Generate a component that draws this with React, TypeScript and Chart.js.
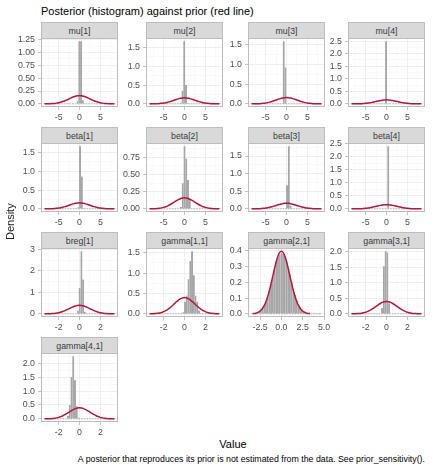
import React, { useEffect, useRef } from 'react';
import { Chart, registerables } from 'chart.js';

Chart.register(...registerables);

// ---- data -------------------------------------------------------------

const panelNames = [
  'mu[1]', 'mu[2]', 'mu[3]', 'mu[4]',
  'beta[1]', 'beta[2]', 'beta[3]', 'beta[4]',
  'breg[1]', 'gamma[1,1]', 'gamma[2,1]', 'gamma[3,1]', 'gamma[4,1]',
];

// prior: normal(0, sd)
const priorSd = [2.5, 2.5, 2.5, 2.5, 2.5, 2.5, 2.5, 2.5, 1, 1, 1, 1, 1];

// standard normal density at z (prior curve, scaled by each panel's sd)
const priorZ = [
  -3.36, -3.2, -3.0, -2.8, -2.6, -2.4, -2.2, -2.0, -1.8, -1.6, -1.4, -1.2, -1.0, -0.8, -0.6, -0.4, -0.2,
  0,
  0.2, 0.4, 0.6, 0.8, 1.0, 1.2, 1.4, 1.6, 1.8, 2.0, 2.2, 2.4, 2.6, 2.8, 3.0, 3.2, 3.36,
];
const priorPhi = [
  0.0014, 0.0024, 0.0044, 0.0079, 0.0136, 0.0224, 0.0355, 0.054, 0.079, 0.1109, 0.1497, 0.1942, 0.242, 0.2897, 0.3332, 0.3683, 0.391,
  0.3989,
  0.391, 0.3683, 0.3332, 0.2897, 0.242, 0.1942, 0.1497, 0.1109, 0.079, 0.054, 0.0355, 0.0224, 0.0136, 0.0079, 0.0044, 0.0024, 0.0014,
];

// posterior histograms: bin width, left edge of the first listed bin, densities
const binWidth = [0.42, 0.42, 0.42, 0.42, 0.42, 0.42, 0.42, 0.42, 0.168, 0.168, 0.2, 0.168, 0.168];
const firstBinEdge = [-0.67, -1.11, -0.88, -0.31, -0.5, -1.05, -0.08, 0.21, -0.236, -0.2, -3.5, -0.504, -1.188];

const mu1Density = [0.05, 1.22, 1.22, 0.07];
const mu2Density = [0.03, 0.35, 1.67, 0.5, 0.02];
const mu3Density = [1.59, 0.92];
const mu4Density = [2.5];
const beta1Density = [0.04, 1.67, 0.86, 0.03];
const beta2Density = [0.03, 0.37, 0.91, 0.73, 0.42, 0.15];
const beta3Density = [0.67, 1.78, 0.08];
const beta4Density = [2.4];
const breg1Density = [0.15, 1.2, 2.92, 1.6, 0.1];
const gamma11Density = [0.04, 0.3, 0.45, 0.85, 1.3, 1.54, 0.95, 0.45, 0.3, 0.08];
const gamma21Density = [
  0.003, 0.004, 0.006, 0.008, 0.013, 0.021, 0.034, 0.052, 0.075, 0.108,
  0.146, 0.19, 0.236, 0.283, 0.33, 0.36, 0.378, 0.385, 0.381, 0.366,
  0.335, 0.296, 0.25, 0.205, 0.16, 0.12, 0.085, 0.06, 0.04, 0.026,
  0.016, 0.01, 0.006, 0.004, 0.003, 0.002, 0.001, 0.001, 0.0005, 0.0005,
  0.0005,
];
const gamma31Density = [0.19, 1.53, 2.02, 1.98, 0.34];
const gamma41Density = [0.1, 0.5, 1.51, 2.26, 1.39, 0.45, 0.05];

const posteriorDensity = [
  mu1Density, mu2Density, mu3Density, mu4Density,
  beta1Density, beta2Density, beta3Density, beta4Density,
  breg1Density, gamma11Density, gamma21Density, gamma31Density, gamma41Density,
];

// major tick spacing of each panel's axes
const xTickStep = [5, 5, 5, 5, 5, 5, 5, 5, 2, 2, 2.5, 2, 2];
const yTickStep = [0.25, 0.5, 0.5, 0.5, 0.5, 0.25, 0.5, 0.5, 1, 0.5, 0.1, 0.5, 0.5];

const titleText = 'Posterior (histogram) against prior (red line)';
const xAxisTitle = 'Value';
const yAxisTitle = 'Density';
const captionText = 'A posterior that reproduces its prior is not estimated from the data. See prior_sensitivity().';

// ---- layout & style ---------------------------------------------------

const FONT = '"Liberation Sans", Arial, Helvetica, sans-serif';
const COL_LEFT = [41, 146, 248, 348];
const PANEL_W = 77;
const ROW_TOP = [22, 127, 232, 337];
const STRIP_H = 16;
const PLOT_H = 69;
const AXIS_W = 30;
const PAD_T = 12;
const PAD_R = 12;
const X_AXIS_H = 18;

const RED = '#B5163B';
const BAR = '#A6A6A6';
const BORDER = '#BDBDBD';
const GRID_MAJOR = '#EBEBEB';
const GRID_MINOR = '#F5F5F5';
const TICK = '#B3B3B3';
const TICK_TEXT = '#4D4D4D';

const decimalsOf = (step: number) => {
  const s = String(step);
  return s.includes('.') ? s.split('.')[1].length : 0;
};
const isMajor = (v: number, step: number) => Math.abs(v / step - Math.round(v / step)) < 1e-6;

function halfStepTicks(min: number, max: number, step: number) {
  const half = step / 2;
  const out: { value: number }[] = [];
  for (let k = Math.ceil(min / half - 1e-9); k <= Math.floor(max / half + 1e-9); k++) {
    out.push({ value: +(k * half).toFixed(6) });
  }
  return out;
}

function histogramBins(i: number) {
  const w = binWidth[i];
  const sd = priorSd[i];
  const lo = priorZ[0] * sd;
  const hi = priorZ[priorZ.length - 1] * sd;
  const dens = posteriorDensity[i];
  const start = firstBinEdge[i];
  const before = Math.max(0, Math.floor((start - lo) / w + 1e-9));
  const firstEdge = start - before * w;
  const listedEnd = start + dens.length * w;
  const after = Math.max(0, Math.floor((hi - listedEnd) / w + 1e-9));
  const bins: { x: number; y: number }[] = [];
  for (let k = 0; k < before; k++) bins.push({ x: firstEdge + (k + 0.5) * w, y: 0 });
  dens.forEach((d, k) => bins.push({ x: start + (k + 0.5) * w, y: d }));
  for (let k = 0; k < after; k++) bins.push({ x: listedEnd + (k + 0.5) * w, y: 0 });
  return { bins, lo: firstEdge, hi: listedEnd + after * w };
}

const panelBorder = {
  id: 'panelBorder',
  afterDraw(chart: any) {
    const { ctx, chartArea: a } = chart;
    ctx.save();
    ctx.strokeStyle = BORDER;
    ctx.lineWidth = 1;
    ctx.strokeRect(a.left + 0.5, a.top + 0.5, a.right - a.left - 1, a.bottom - a.top - 1);
    ctx.restore();
  },
};

function buildConfig(i: number): any {
  const sd = priorSd[i];
  const prior = priorZ.map((z, k) => ({ x: z * sd, y: priorPhi[k] / sd }));
  const hist = histogramBins(i);
  const dataLo = Math.min(prior[0].x, hist.lo);
  const dataHi = Math.max(prior[prior.length - 1].x, hist.hi);
  const xPad = 0.05 * (dataHi - dataLo);
  const xMin = dataLo - xPad;
  const xMax = dataHi + xPad;
  const top = Math.max(...posteriorDensity[i], ...prior.map((p) => p.y));
  const yMin = -0.05 * top;
  const yMax = 1.05 * top;
  const xs = xTickStep[i];
  const ys = yTickStep[i];
  const tickFont = { family: FONT, size: 8.8 };

  const axis = (step: number, min: number, max: number, isX: boolean) => ({
    type: 'linear',
    min,
    max,
    bounds: 'data',
    offset: false,
    border: { display: false },
    grid: {
      offset: false,
      drawTicks: true,
      tickLength: 3,
      color: (c: any) => (c.tick && isMajor(c.tick.value, step) ? GRID_MAJOR : GRID_MINOR),
      tickColor: (c: any) => (c.tick && isMajor(c.tick.value, step) ? TICK : 'rgba(0,0,0,0)'),
      lineWidth: (c: any) => (c.tick && isMajor(c.tick.value, step) ? 0.8 : 0.6),
    },
    ticks: {
      autoSkip: false,
      maxRotation: 0,
      minRotation: 0,
      padding: isX ? 2 : 3,
      color: TICK_TEXT,
      font: tickFont,
      callback: (v: number) => (isMajor(v, step) ? Number(v).toFixed(decimalsOf(step)) : ''),
    },
    afterBuildTicks: (scale: any) => {
      scale.ticks = halfStepTicks(min, max, step);
    },
    afterFit: (scale: any) => {
      if (isX) scale.height = X_AXIS_H;
      else scale.width = AXIS_W;
    },
  });

  return {
    type: 'bar',
    data: {
      datasets: [
        {
          type: 'line',
          data: prior,
          borderColor: RED,
          borderWidth: 1.5,
          pointRadius: 0,
          fill: false,
          cubicInterpolationMode: 'monotone',
          order: 0,
        },
        {
          type: 'line',
          data: [{ x: hist.lo, y: 0 }, { x: hist.hi, y: 0 }],
          borderColor: 'rgba(110,110,110,0.85)',
          borderWidth: 0.6,
          borderDash: [1.5, 1.2],
          pointRadius: 0,
          fill: false,
          order: 1,
        },
        {
          type: 'bar',
          data: hist.bins,
          backgroundColor: BAR,
          borderColor: 'rgba(255,255,255,0.25)',
          borderWidth: { left: 0.25, right: 0.25, top: 0, bottom: 0 },
          borderSkipped: false,
          barPercentage: 1,
          categoryPercentage: 1,
          order: 2,
        },
      ],
    },
    options: {
      animation: false,
      responsive: false,
      events: [],
      layout: { padding: { top: PAD_T, right: PAD_R, left: 0, bottom: 0 } },
      plugins: {
        legend: { display: false },
        tooltip: { enabled: false },
        title: { display: false },
      },
      scales: {
        x: axis(xs, xMin, xMax, true),
        y: axis(ys, yMin, yMax, false),
      },
    },
    plugins: [panelBorder],
  };
}

function Panel({ index }: { index: number }) {
  const ref = useRef<HTMLCanvasElement>(null);
  const col = index % 4;
  const row = Math.floor(index / 4);
  const left = COL_LEFT[col];
  const stripTop = ROW_TOP[row];
  const plotTop = stripTop + STRIP_H;
  const cw = AXIS_W + PANEL_W + PAD_R;
  const ch = PAD_T + PLOT_H + X_AXIS_H;

  useEffect(() => {
    if (!ref.current) return;
    const chart = new Chart(ref.current, buildConfig(index));
    return () => chart.destroy();
  }, [index]);

  return (
    <>
      <div
        style={{
          position: 'absolute',
          left,
          top: stripTop,
          width: PANEL_W,
          height: STRIP_H + 1,
          boxSizing: 'border-box',
          background: '#D9D9D9',
          border: `1px solid ${BORDER}`,
          display: 'flex',
          alignItems: 'center',
          justifyContent: 'center',
          fontSize: 8.8,
          fontWeight: 400,
          color: '#3A3A3A',
          whiteSpace: 'nowrap',
        }}
      >
        {panelNames[index]}
      </div>
      <canvas
        ref={ref}
        width={cw}
        height={ch}
        style={{ position: 'absolute', left: left - AXIS_W, top: plotTop - PAD_T, width: cw, height: ch }}
      />
    </>
  );
}

export default function App() {
  return (
    <div
      style={{
        position: 'fixed',
        left: 0,
        top: 0,
        width: 432,
        height: 468,
        background: '#fff',
        fontFamily: FONT,
        overflow: 'hidden',
      }}
    >
      <div style={{ position: 'absolute', left: 41, top: 5, fontSize: 11, lineHeight: '13px', color: '#000', whiteSpace: 'nowrap' }}>
        {titleText}
      </div>
      {panelNames.map((name, i) => (
        <Panel key={name} index={i} />
      ))}
      <div
        style={{
          position: 'absolute',
          left: 4,
          top: 222 - 30,
          width: 13,
          height: 60,
          lineHeight: '13px',
          fontSize: 11,
          fontWeight: 400,
          textAlign: 'center',
          writingMode: 'vertical-rl',
          transform: 'rotate(180deg)',
          color: '#1A1A1A',
        }}
      >
        {yAxisTitle}
      </div>
      <div
        style={{
          position: 'absolute',
          left: 233 - 30,
          top: 438,
          width: 60,
          lineHeight: '13px',
          fontSize: 11,
          textAlign: 'center',
          color: '#000',
        }}
      >
        {xAxisTitle}
      </div>
      <div
        style={{
          position: 'absolute',
          right: 432 - 425,
          top: 454,
          lineHeight: '10px',
          fontSize: 8.8,
          color: '#000',
          whiteSpace: 'nowrap',
          textAlign: 'right',
        }}
      >
        {captionText}
      </div>
    </div>
  );
}
